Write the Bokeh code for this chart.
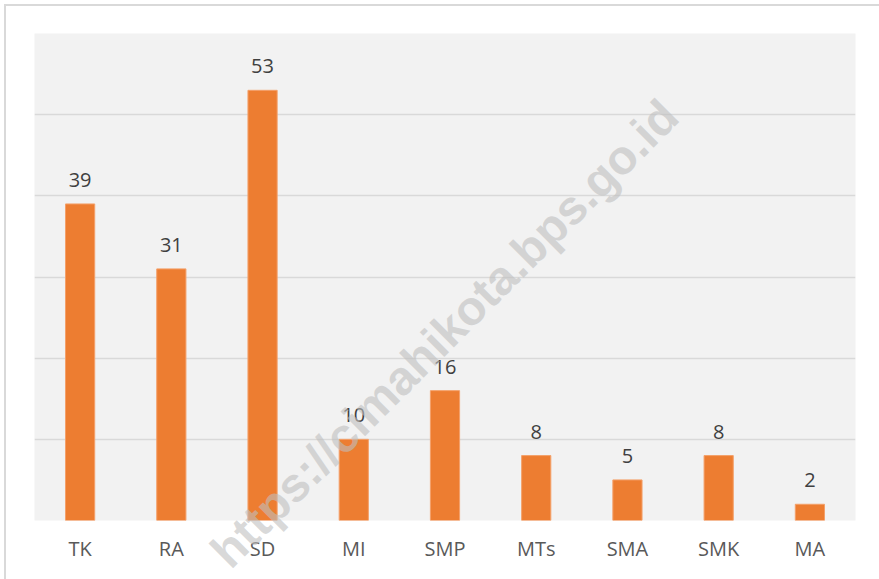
from bokeh.plotting import figure
from bokeh.models import ColumnDataSource, FactorRange, Range1d, FixedTicker, LabelSet
from bokeh.core.properties import value
from bokeh.embed import file_html
from bokeh.resources import INLINE

categories = ["TK", "RA", "SD", "MI", "SMP", "MTs", "SMA", "SMK", "MA"]
values = [39, 31, 53, 10, 16, 8, 5, 8, 2]
grid_ticks = [0, 10, 20, 30, 40, 50, 60]
watermark = "https://cimahikota.bps.go.id"

W, H = 879, 579

src = ColumnDataSource(dict(cat=categories, val=values, lab=[str(v) for v in values]))

edge = "linear-gradient(#D9D9D9,#D9D9D9)"
p = figure(width=W, height=H, x_range=FactorRange(*categories, range_padding=0),
           y_range=Range1d(0, 60), output_backend="svg", toolbar_location=None,
           y_axis_location=None, min_border_left=34, min_border_right=24,
           min_border_top=33, min_border_bottom=59,
           background_fill_color="#F2F2F2", border_fill_color=None,
           styles={"background": f"{edge} 4px 4px / calc(100% - 4px) 2px no-repeat, "
                                 f"{edge} 4px 4px / 2px calc(100% - 4px) no-repeat, #FFFFFF"})
p.outline_line_color = None

p.ygrid.ticker = FixedTicker(ticks=grid_ticks)
p.ygrid.grid_line_color = "#D9D9D9"
p.ygrid.grid_line_width = 1.5
p.xgrid.grid_line_color = None

p.xaxis.axis_line_color = None
p.xaxis.major_tick_line_color = None
p.xaxis.minor_tick_line_color = None
p.xaxis.major_tick_out = 0
p.xaxis.major_tick_in = 0
p.xaxis.major_label_standoff = 14
p.xaxis.major_label_text_font = "Open Sans"
p.xaxis.major_label_text_font_size = "20px"
p.xaxis.major_label_text_color = "#595959"

p.vbar(x="cat", top="val", width=0.32, source=src, fill_color="#ED7D31",
       line_color="#F4A06A", line_width=1)

labels = LabelSet(x="cat", y="val", text="lab", source=src, y_offset=17,
                  text_align="center", text_baseline="alphabetic",
                  text_font=value("Open Sans"), text_font_size="20px",
                  text_color="#404040")
p.add_layout(labels)

# transparent overlay carrying the diagonal watermark (not clipped to the plot frame)
q = figure(width=W, height=H, x_range=Range1d(0, W), y_range=Range1d(0, H),
           output_backend="svg", toolbar_location=None,
           x_axis_location=None, y_axis_location=None,
           min_border=0, min_border_left=0, min_border_right=0,
           min_border_top=0, min_border_bottom=0,
           background_fill_color=None, border_fill_color=None,
           styles={"position": "absolute", "top": "0px", "left": "0px",
                   "pointer-events": "none"})
q.outline_line_color = None
q.xgrid.visible = False
q.ygrid.visible = False
q.text(x=[444], y=[H - 333], text=[watermark], angle=45, angle_units="deg",
       text_align="center", text_baseline="middle",
       text_font=value("Liberation Sans"), text_font_style="bold",
       text_font_size="48px", text_color="#BFBFBF", text_alpha=0.6)

open("out.html", "w").write(file_html([p, q], INLINE))
